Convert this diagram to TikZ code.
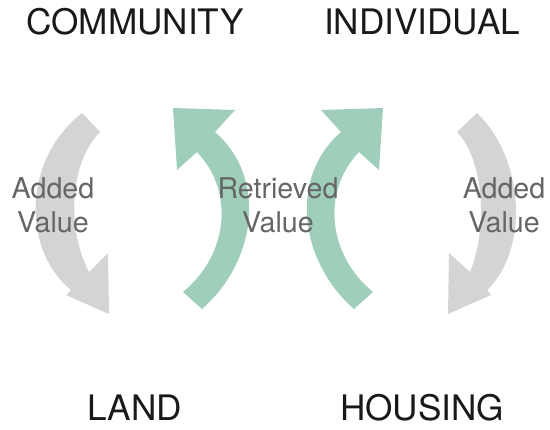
\documentclass[tikz,border=0pt]{standalone}
\usepackage{fontspec}
\setmainfont{TeX Gyre Heros}
\definecolor{valuegray}{RGB}{211,212,214}
\definecolor{valuegreen}{RGB}{159,206,187}
\definecolor{labelgray}{RGB}{102,102,102}

\begin{document}
\begin{tikzpicture}[x=0.02cm, y=-0.02cm,
    heading/.style={font=\fontsize{20}{24}\selectfont, text=black!90},
    valuetext/.style={font=\fontsize{16.3}{19.3}\selectfont, text=labelgray, align=center}]
    \useasboundingbox (0,0) rectangle (550,429);

    % added value: community down to land
    \fill[valuegray] (82,113) -- (100,132) .. controls (70,162) and (66,228) .. (89,272)
        -- (108,253) -- (109,314) -- (66,295) -- (71,290)
        .. controls (22,250) and (22,160) .. (82,113) -- cycle;
    % added value: individual down to housing
    \fill[valuegray] (477,113) -- (457,132) .. controls (484,160) and (488,228) .. (470,272)
        -- (449,253) -- (448,314) -- (491,295) -- (487,290)
        .. controls (528,252) and (526,160) .. (477,113) -- cycle;

    % retrieved value: land back up to community
    \fill[valuegreen] (183,292) -- (202,309) .. controls (256,262) and (268,178) .. (215,132)
        -- (235,110) -- (173,108) -- (177,170) -- (197,152)
        .. controls (235,192) and (228,255) .. (183,292) -- cycle;
    % retrieved value: housing back up to individual
    \fill[valuegreen] (373,292) -- (354,309) .. controls (300,262) and (288,178) .. (341,132)
        -- (321,110) -- (383,108) -- (379,170) -- (359,152)
        .. controls (321,192) and (328,255) .. (373,292) -- cycle;

    \node[heading] (community) at (135,22) {COMMUNITY};
    \node[heading] (individual) at (422,22) {INDIVIDUAL};
    \node[heading] (land) at (135,408) {LAND};
    \node[heading] (housing) at (422,408) {HOUSING};

    \node[valuetext] (addedleft) at (53,205) {Added\\Value};
    \node[valuetext] (retrieved) at (278,205) {Retrieved\\Value};
    \node[valuetext] (addedright) at (504,205) {Added\\Value};
\end{tikzpicture}
\end{document}
